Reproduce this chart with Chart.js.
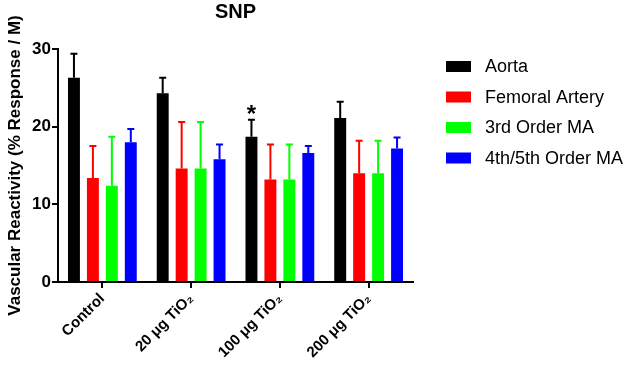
<!DOCTYPE html>
<html>
<head>
    <title>SNP</title>
    <script src="https://cdn.jsdelivr.net/npm/chart.js"></script>
    <style>
        body { margin: 0; background: #fff; }
    </style>
</head>
<body>
    <canvas id="myChart" width="632" height="368"></canvas>
    <script>
      // groups on the x axis
      const groups = ["Control", "20 μg TiO₂", "100 μg TiO₂", "200 μg TiO₂"];
      const yTicks = [0, 10, 20, 30];

      // means and SEM (upper error bar only)
      const aorta = [26.3, 24.3, 18.7, 21.1];
      const aortaSem = [3.1, 2.0, 2.2, 2.1];
      const aortaSig = ["", "", "*", ""];
      const femoral = [13.4, 14.6, 13.2, 14.0];
      const femoralSem = [4.1, 6.0, 4.5, 4.2];
      const thirdOrder = [12.4, 14.6, 13.2, 14.0];
      const thirdOrderSem = [6.3, 6.0, 4.5, 4.2];
      const fourthOrder = [18.0, 15.8, 16.6, 17.2];
      const fourthOrderSem = [1.7, 1.9, 0.9, 1.4];

      const font = "'Liberation Sans', Arial, sans-serif";
      Chart.defaults.font.family = font;
      Chart.defaults.color = "#000";

      function makeSet(label, data, sem, color, sig) {
        return {
          label: label,
          data: data,
          sem: sem,
          sig: sig || [],
          backgroundColor: color,
          borderWidth: 0,
          barPercentage: 0.63,
          categoryPercentage: 0.854,
        };
      }

      // upper error bars + significance marks
      const errorBars = {
        id: "errorBars",
        afterDatasetsDraw(chart) {
          const ctx = chart.ctx;
          const y = chart.scales.y;
          chart.data.datasets.forEach((ds, i) => {
            const meta = chart.getDatasetMeta(i);
            meta.data.forEach((bar, j) => {
              const top = y.getPixelForValue(ds.data[j] + ds.sem[j]);
              ctx.save();
              ctx.strokeStyle = ds.backgroundColor;
              ctx.lineWidth = 2;
              ctx.beginPath();
              ctx.moveTo(bar.x, bar.y);
              ctx.lineTo(bar.x, top);
              ctx.moveTo(bar.x - 3.5, top);
              ctx.lineTo(bar.x + 3.5, top);
              ctx.stroke();
              if (ds.sig[j]) {
                ctx.fillStyle = "#000";
                ctx.font = "bold 24px " + font;
                ctx.textAlign = "center";
                ctx.textBaseline = "alphabetic";
                ctx.fillText(ds.sig[j], bar.x, top + 2);
              }
              ctx.restore();
            });
          });
        },
      };

      // legend on the right side
      const sideLegend = {
        id: "sideLegend",
        afterDraw(chart) {
          const ctx = chart.ctx;
          chart.data.datasets.forEach((ds, i) => {
            const cy = 66.5 + i * 30.5;
            ctx.save();
            ctx.fillStyle = ds.backgroundColor;
            ctx.fillRect(446, cy - 5.5, 25, 11);
            ctx.fillStyle = "#000";
            ctx.font = "18px " + font;
            ctx.textBaseline = "middle";
            ctx.fillText(ds.label, 485, cy + 1);
            ctx.restore();
          });
        },
      };

      const ctx = document.getElementById("myChart");
      const mychart = new Chart(ctx, {
        type: "bar",
        data: {
          labels: groups,
          datasets: [
            makeSet("Aorta", aorta, aortaSem, "#000000", aortaSig),
            makeSet("Femoral Artery", femoral, femoralSem, "#ff0000"),
            makeSet("3rd Order MA", thirdOrder, thirdOrderSem, "#00ff00"),
            makeSet("4th/5th Order MA", fourthOrder, fourthOrderSem, "#0000ff"),
          ],
        },
        options: {
          responsive: false,
          animation: false,
          layout: { padding: { left: 0, right: 219, top: 0, bottom: 0 } },
          plugins: {
            legend: { display: false },
            tooltip: { enabled: false },
            title: {
              display: true,
              text: "SNP",
              fullSize: false,
              color: "#000",
              font: { size: 20, weight: "bold" },
              padding: { top: 0, bottom: 25 },
            },
          },
          scales: {
            x: {
              grid: {
                offset: false,
                drawOnChartArea: false,
                drawTicks: true,
                tickLength: 6,
                color: "#000",
                lineWidth: 2,
              },
              border: { color: "#000", width: 2 },
              ticks: {
                color: "#000",
                font: { size: 15, weight: "bold" },
                minRotation: 45,
                maxRotation: 45,
                autoSkip: false,
                padding: 2,
              },
              afterFit(scale) {
                scale.height = 86;
              },
            },
            y: {
              min: 0,
              max: 30,
              afterBuildTicks(scale) {
                scale.ticks = yTicks.map((v) => ({ value: v }));
              },
              grid: {
                drawOnChartArea: false,
                tickLength: 6,
                color: "#000",
                lineWidth: 2,
              },
              border: { color: "#000", width: 2 },
              ticks: {
                color: "#000",
                font: { size: 17, weight: "bold" },
                padding: 1,
              },
              title: {
                display: true,
                text: "Vascular Reactivity (% Response / M)",
                color: "#000",
                font: { size: 17, weight: "bold" },
                padding: { top: 5, bottom: 3 },
              },
              afterFit(scale) {
                scale.width = 58;
              },
            },
          },
        },
        plugins: [errorBars, sideLegend],
      });
    </script>
</body>
</html>
